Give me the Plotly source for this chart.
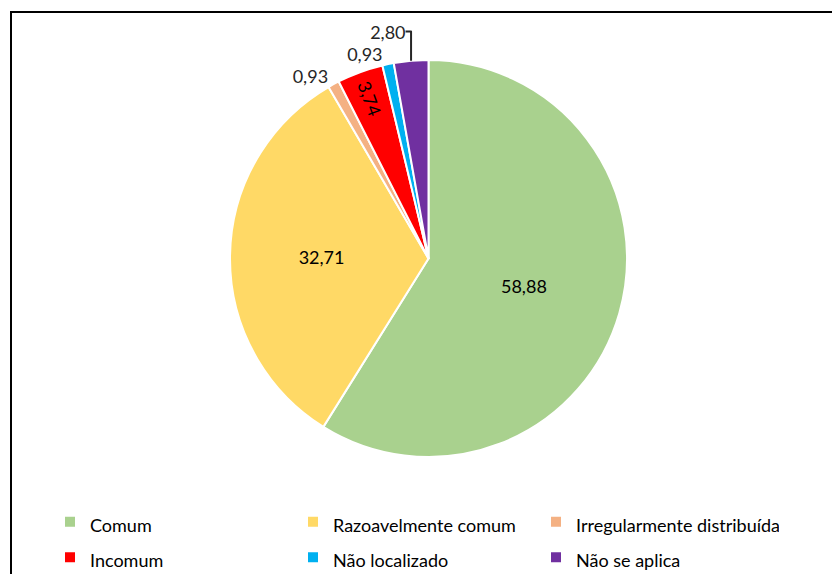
import plotly.graph_objects as go

categories = ["Comum", "Razoavelmente comum", "Irregularmente distribuída",
              "Incomum", "Não localizado", "Não se aplica"]
values = [58.88, 32.71, 0.93, 3.74, 0.93, 2.80]
colors = ["#A9D18E", "#FFD966", "#F4B183", "#FF0000", "#00B0F0", "#7030A0"]
text_positions = ["inside", "inside", "outside", "inside", "outside", "outside"]

W, H = 832, 574
FONT = "Lato"
TXT = 18

# legend labels: text drawn at TXT px while the legend font size sets the row pitch
legend_labels = [f'<span style="font-size:{TXT}px">{c}</span>' for c in categories]

fig = go.Figure(go.Pie(
    labels=legend_labels,
    values=values,
    sort=False,
    direction="clockwise",
    rotation=0,
    marker=dict(colors=colors, line=dict(color="white", width=2)),
    texttemplate="%{value:.2f}",
    textposition=text_positions,
    textfont=dict(family=FONT, size=TXT, color="black"),
    outsidetextfont=dict(family=FONT, size=TXT, color="#262626"),
    insidetextorientation="auto",
    domain=dict(x=[230 / W, 627 / W], y=[1 - 457 / H, 1 - 60 / H]),
    hoverinfo="label+value",
))

fig.update_layout(
    width=W, height=H,
    margin=dict(l=0, r=0, t=0, b=0, autoexpand=False),
    paper_bgcolor="white",
    separators=",.",
    font=dict(family=FONT, size=TXT, color="black"),
    legend=dict(
        orientation="h",
        x=50 / W, xanchor="left",
        y=-6 / H, yanchor="bottom",
        entrywidth=198, entrywidthmode="pixels",
        itemwidth=30,
        font=dict(family=FONT, size=25, color="black"),
        traceorder="normal",
        bgcolor="rgba(0,0,0,0)",
    ),
    shapes=[dict(type="rect", xref="paper", yref="paper",
                 x0=11 / W, x1=1.02, y0=-0.02, y1=1 - 12 / H,
                 line=dict(color="black", width=2))],
)

fig.write_html("out.html",
               config=dict(displayModeBar=False),
               post_script="document.body.style.margin='0';document.body.style.overflow='hidden';")
